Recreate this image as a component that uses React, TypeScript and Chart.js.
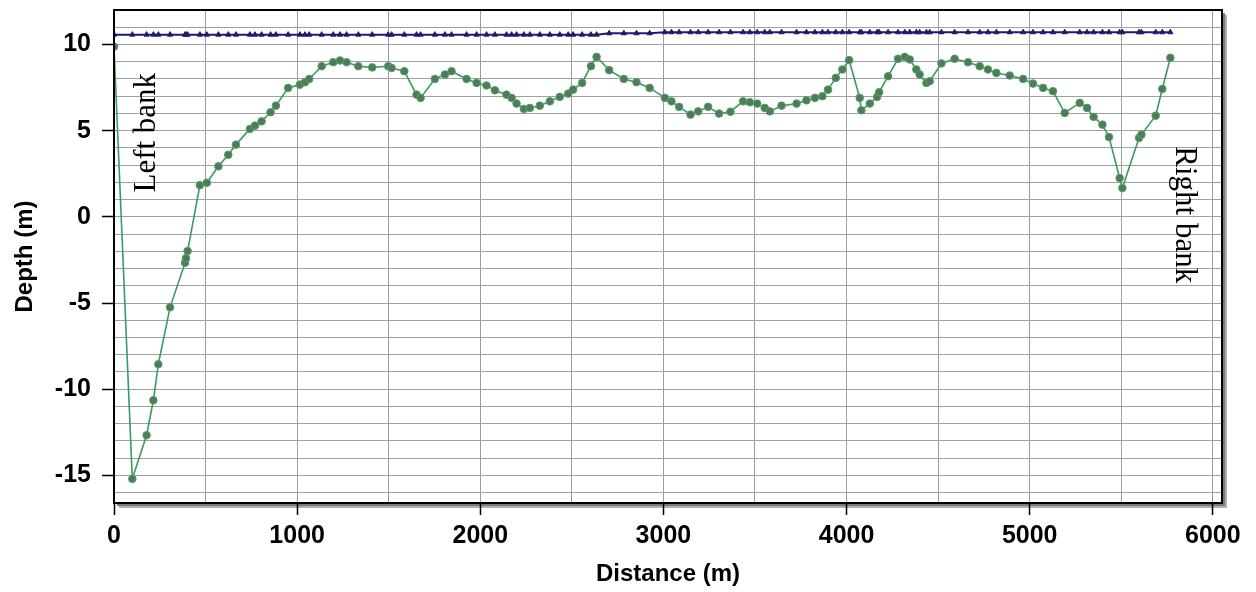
import React, { useEffect, useRef } from 'react';
import { Chart, registerables } from 'chart.js';

Chart.register(...registerables);

// Distance along the cross-section (m)
const distance = [
  0, 100, 178, 215, 242, 306, 388, 393, 402, 469,
  507, 570, 624, 666, 742, 770, 806, 855, 884, 951,
  1015, 1043, 1066, 1134, 1197, 1234, 1270, 1334, 1410, 1497,
  1516, 1585, 1652, 1674, 1752, 1807, 1843, 1925, 1980, 2034,
  2080, 2143, 2171, 2198, 2238, 2271, 2325, 2380, 2434, 2480,
  2507, 2556, 2604, 2635, 2704, 2784, 2853, 2925, 3008, 3044,
  3086, 3148, 3190, 3244, 3304, 3366, 3435, 3472, 3512, 3553,
  3581, 3645, 3727, 3781, 3827, 3868, 3899, 3941, 3977, 4014,
  4072, 4081, 4127, 4167, 4178, 4227, 4281, 4318, 4345, 4381,
  4399, 4436, 4454, 4518, 4590, 4663, 4727, 4772, 4818, 4891,
  4964, 5018, 5073, 5127, 5191, 5273, 5313, 5349, 5397, 5433,
  5491, 5506, 5597, 5610, 5688, 5724, 5768,
];

// Bed level (m)
const bedLevel = [
  9.87, -15.2, -12.67, -10.64, -8.55, -5.25, -2.66, -2.4, -1.98, 1.84,
  1.98, 2.93, 3.6, 4.19, 5.1, 5.29, 5.54, 6.07, 6.45, 7.48,
  7.67, 7.81, 8.0, 8.74, 8.97, 9.07, 8.97, 8.74, 8.67, 8.74,
  8.64, 8.45, 7.09, 6.9, 8.0, 8.26, 8.45, 8.0, 7.77, 7.62,
  7.34, 7.09, 6.9, 6.57, 6.26, 6.32, 6.45, 6.7, 6.96, 7.15,
  7.38, 7.77, 8.74, 9.28, 8.51, 8.0, 7.81, 7.48, 6.9, 6.7,
  6.38, 5.93, 6.12, 6.38, 5.99, 6.1, 6.7, 6.65, 6.57, 6.32,
  6.12, 6.45, 6.57, 6.76, 6.9, 7.0, 7.38, 8.06, 8.55, 9.09,
  6.9, 6.18, 6.57, 6.96, 7.23, 8.16, 9.17, 9.28, 9.13, 8.55,
  8.26, 7.77, 7.87, 8.9, 9.17, 8.97, 8.74, 8.55, 8.35, 8.2,
  8.0, 7.73, 7.48, 7.29, 6.03, 6.61, 6.32, 5.8, 5.35, 4.63,
  2.25, 1.67, 4.58, 4.77, 5.87, 7.42, 9.23,
];

// Water surface level (m)
const waterLevel = [
  10.57, 10.57, 10.57, 10.57, 10.57, 10.57, 10.57, 10.57, 10.57, 10.57,
  10.57, 10.57, 10.57, 10.57, 10.57, 10.57, 10.57, 10.57, 10.57, 10.57,
  10.57, 10.57, 10.57, 10.57, 10.57, 10.57, 10.57, 10.57, 10.57, 10.57,
  10.57, 10.57, 10.57, 10.57, 10.57, 10.57, 10.57, 10.57, 10.57, 10.57,
  10.57, 10.57, 10.57, 10.57, 10.57, 10.57, 10.57, 10.57, 10.57, 10.57,
  10.57, 10.57, 10.57, 10.57, 10.65, 10.65, 10.65, 10.65, 10.71, 10.71,
  10.71, 10.71, 10.71, 10.71, 10.71, 10.71, 10.71, 10.71, 10.71, 10.71,
  10.71, 10.71, 10.71, 10.71, 10.71, 10.71, 10.71, 10.71, 10.71, 10.71,
  10.71, 10.71, 10.71, 10.71, 10.71, 10.71, 10.71, 10.71, 10.71, 10.71,
  10.71, 10.71, 10.71, 10.71, 10.71, 10.71, 10.71, 10.71, 10.71, 10.71,
  10.71, 10.71, 10.71, 10.71, 10.71, 10.71, 10.71, 10.71, 10.71, 10.71,
  10.71, 10.71, 10.71, 10.71, 10.71, 10.71, 10.71,
];

const xTickLabels = [0, 1000, 2000, 3000, 4000, 5000, 6000];
const yTickLabels = [-15, -10, -5, 0, 5, 10];
const xGridStep = 500;
const yGridStep = 1;

const bankLabels = [
  { text: 'Left bank', x: 224, y: 4.88, rotation: -Math.PI / 2 },
  { text: 'Right bank', x: 5797, y: 0.12, rotation: Math.PI / 2 },
];

const framePlugin = {
  id: 'frame',
  beforeDraw(chart: any) {
    const { ctx, chartArea: a } = chart;
    ctx.save();
    ctx.fillStyle = '#b0b0b0';
    ctx.fillRect(a.left + 5, a.top + 5, a.right - a.left, a.bottom - a.top);
    ctx.fillStyle = '#7a7a7a';
    ctx.fillRect(a.left + 3, a.top + 3, a.right - a.left, a.bottom - a.top);
    ctx.fillStyle = '#ffffff';
    ctx.fillRect(a.left, a.top, a.right - a.left, a.bottom - a.top);
    ctx.restore();
  },
  afterDraw(chart: any) {
    const { ctx, chartArea: a, scales } = chart;
    ctx.save();
    ctx.strokeStyle = '#000';
    ctx.lineWidth = 2;
    ctx.strokeRect(a.left, a.top, a.right - a.left, a.bottom - a.top);
    ctx.fillStyle = '#000';
    ctx.font = '31px "Liberation Serif", "Times New Roman", serif';
    ctx.textAlign = 'center';
    ctx.textBaseline = 'alphabetic';
    for (const lb of bankLabels) {
      ctx.save();
      ctx.translate(scales.x.getPixelForValue(lb.x), scales.y.getPixelForValue(lb.y));
      ctx.rotate(lb.rotation);
      ctx.fillText(lb.text, 0, 0);
      ctx.restore();
    }
    ctx.restore();
  },
};

const tickFont = { family: '"Liberation Sans", Arial, sans-serif', size: 25, weight: 'bold' as const };
const titleFont = { family: '"Liberation Sans", Arial, sans-serif', size: 24, weight: 'bold' as const };

function gridTicks(min: number, max: number, step: number) {
  const out: { value: number }[] = [];
  for (let v = Math.ceil(min / step) * step; v <= max + 1e-9; v += step) out.push({ value: Math.round(v * 1000) / 1000 });
  return out;
}

export default function App() {
  const canvasRef = useRef<HTMLCanvasElement | null>(null);

  useEffect(() => {
    if (!canvasRef.current) return;
    const chart = new Chart(canvasRef.current, {
      type: 'line',
      data: {
        datasets: [
          {
            label: 'Water level',
            data: distance.map((d, i) => ({ x: d, y: waterLevel[i] })),
            borderColor: '#1c1c6a',
            borderWidth: 2,
            pointStyle: 'triangle',
            pointRadius: 3,
            pointBackgroundColor: '#1c1c6a',
            pointBorderColor: '#1c1c6a',
            pointBorderWidth: 1,
          },
          {
            label: 'Bed',
            data: distance.map((d, i) => ({ x: d, y: bedLevel[i] })),
            borderColor: '#3c9a62',
            borderWidth: 1.6,
            pointStyle: 'circle',
            pointRadius: 3.8,
            pointBackgroundColor: '#55775a',
            pointBorderColor: '#48a862',
            pointBorderWidth: 1,
          },
        ],
      },
      options: {
        responsive: false,
        animation: false,
        devicePixelRatio: 1,
        layout: { padding: { top: 10, right: 34, left: 0, bottom: 0 } },
        plugins: { legend: { display: false }, tooltip: { enabled: false } },
        elements: { line: { tension: 0 } },
        scales: {
          x: {
            type: 'linear',
            min: 0,
            max: 6050,
            border: { display: false },
            afterBuildTicks: (s: any) => {
              s.ticks = gridTicks(0, 6050, xGridStep);
            },
            grid: {
              color: '#9c9c9c',
              lineWidth: 1,
              tickLength: 12,
              tickColor: (c: any) => (xTickLabels.includes(c.tick?.value) ? '#000' : 'rgba(0,0,0,0)'),
              tickWidth: 1.5,
            },
            ticks: {
              autoSkip: false,
              maxRotation: 0,
              color: '#000',
              font: tickFont,
              padding: 6,
              callback: (v: any) => (xTickLabels.includes(Number(v)) ? String(v) : ''),
            },
            title: {
              display: true,
              text: 'Distance (m)',
              color: '#000',
              font: titleFont,
              padding: { top: 0, bottom: 3 },
            },
            afterFit: (s: any) => {
              s.height = 89;
              s.paddingLeft = 0;
              s.paddingRight = 0;
            },
          },
          y: {
            type: 'linear',
            min: -16.6,
            max: 12,
            border: { display: false },
            afterBuildTicks: (s: any) => {
              s.ticks = gridTicks(-16.6, 12, yGridStep);
            },
            grid: {
              color: '#a0a0a0',
              lineWidth: 1,
              tickLength: 12,
              tickColor: (c: any) => (yTickLabels.includes(c.tick?.value) ? '#000' : 'rgba(0,0,0,0)'),
              tickWidth: 1.5,
            },
            ticks: {
              autoSkip: false,
              color: '#000',
              font: tickFont,
              padding: 11,
              callback: (v: any) => (yTickLabels.includes(Number(v)) ? String(v) : ''),
            },
            title: {
              display: true,
              text: 'Depth (m)',
              color: '#000',
              font: titleFont,
              padding: { top: 11, bottom: 0 },
            },
            afterFit: (s: any) => {
              s.width = 114;
              s.paddingTop = 0;
              s.paddingBottom = 0;
            },
          },
        },
      },
      plugins: [framePlugin],
    });
    return () => chart.destroy();
  }, []);

  return (
    <div style={{ position: 'fixed', left: 0, top: 0, width: 1256, height: 592, background: '#fff' }}>
      <canvas ref={canvasRef} width={1256} height={592} style={{ width: 1256, height: 592, display: 'block' }} />
    </div>
  );
}
